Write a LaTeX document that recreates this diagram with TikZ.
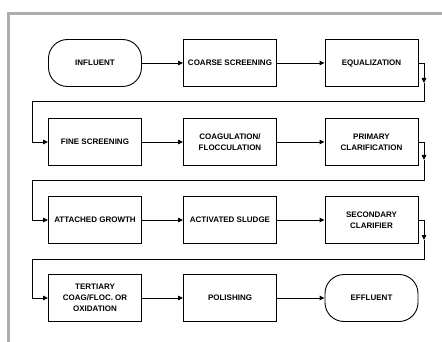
\documentclass[tikz,border=0pt]{standalone}
\usepackage{fontspec}
\setmainfont{Liberation Sans}
\usetikzlibrary{arrows.meta, positioning}

\begin{document}
\begin{tikzpicture}[x=1pt, y=-1pt,
  stepbox/.style={draw, line width=0.9pt, minimum width=93pt, minimum height=47pt,
    inner sep=1pt, align=center, font=\fontsize{8}{11}\selectfont\bfseries},
  endbox/.style={stepbox, rounded corners=19pt},
  flow/.style={line width=0.9pt, -{Triangle[length=5pt,width=4.5pt]}}]
  \useasboundingbox (0,0) rectangle (442,342);

  % Frame
  \draw[line width=3pt, black!32] (8.5,342) -- (8.5,13.5) -- (442,13.5);

  % Row 1
  \node[endbox]  (influent)  at (95,63)    {INFLUENT};
  \node[stepbox] (coarse)    at (230,63)   {COARSE SCREENING};
  \node[stepbox] (equal)     at (371.5,63) {EQUALIZATION};

  % Row 2
  \node[stepbox] (fine)      at (95,142)    {FINE SCREENING};
  \node[stepbox] (coag)      at (230,142)   {COAGULATION/\\FLOCCULATION};
  \node[stepbox] (primary)   at (371.5,142) {PRIMARY\\CLARIFICATION};

  % Row 3
  \node[stepbox] (attached)  at (95,220)    {ATTACHED GROWTH};
  \node[stepbox] (activated) at (230,220)   {ACTIVATED SLUDGE};
  \node[stepbox] (secondary) at (371.5,220) {SECONDARY\\CLARIFIER};

  % Row 4
  \node[stepbox] (tertiary)  at (95,298)    {TERTIARY\\COAG/FLOC. OR\\OXIDATION};
  \node[stepbox] (polishing) at (230,298)   {POLISHING};
  \node[endbox]  (effluent)  at (371.5,298) {EFFLUENT};

  % Flow along the rows
  \draw[flow] (influent) -- (coarse);
  \draw[flow] (coarse) -- (equal);
  \draw[flow] (fine) -- (coag);
  \draw[flow] (coag) -- (primary);
  \draw[flow] (attached) -- (activated);
  \draw[flow] (activated) -- (secondary);
  \draw[flow] (tertiary) -- (polishing);
  \draw[flow] (polishing) -- (effluent);

  % Turns from one row to the next
  \coordinate (downA) at (424,83);
  \coordinate (backA) at (32,101);
  \draw[flow] (equal.east) -| (downA);
  \draw[flow] (downA) |- (backA) |- (fine.west);

  \coordinate (downB) at (424,160);
  \coordinate (backB) at (32,180);
  \draw[flow] (primary.east) -| (downB);
  \draw[flow] (downB) |- (backB) |- (attached.west);

  \coordinate (downC) at (424,240);
  \coordinate (backC) at (32,259);
  \draw[flow] (secondary.east) -| (downC);
  \draw[flow] (downC) |- (backC) |- (tertiary.west);
\end{tikzpicture}
\end{document}
